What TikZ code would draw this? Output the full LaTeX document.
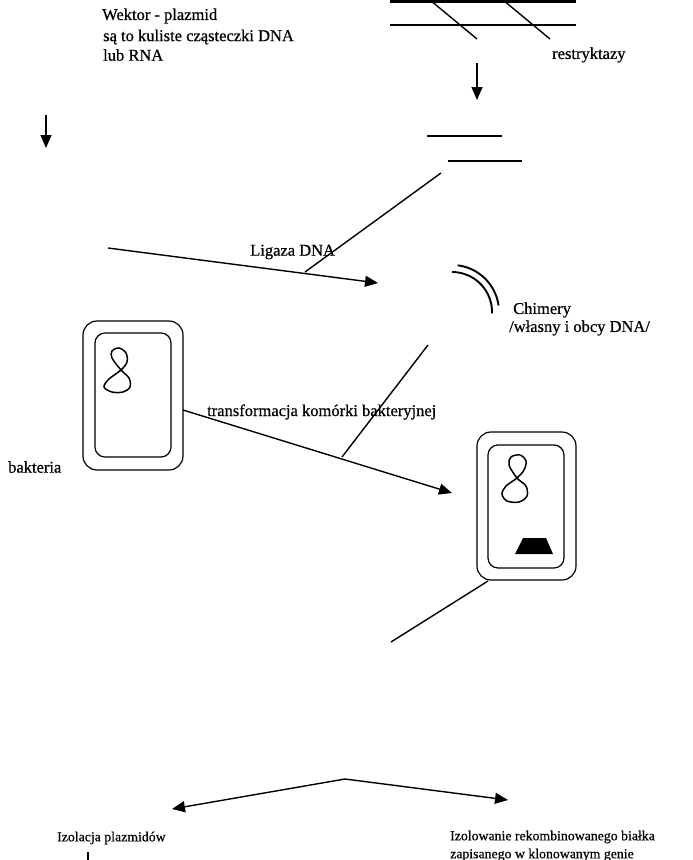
\documentclass[tikz,border=0pt]{standalone}
\usepackage{fontspec}
\setmainfont{Liberation Serif}[FakeBold=0.6]
\usetikzlibrary{arrows.meta}
\begin{document}
\begin{tikzpicture}[x=1pt,y=-1pt,
  lbl/.style={anchor=west,inner sep=0pt,font=\fontsize{16.5}{19}\selectfont},
  small/.style={anchor=west,inner sep=0pt,font=\fontsize{13.8}{18}\selectfont},
  strand/.style={line width=2.6pt},
  cut/.style={line width=1.4pt},
  arr/.style={line width=1.4pt,-{Triangle[length=13pt,width=11pt]}},
  wall/.style={draw,line width=1.2pt,rounded corners=14pt,inner sep=0pt,
    minimum width=100pt,minimum height=149pt},
  membrane/.style={draw,line width=1.2pt,rounded corners=10pt,inner sep=0pt,
    minimum width=76pt,minimum height=124pt},
  eight/.style={line width=1.5pt},
  arcline/.style={line width=1.9pt}]
\useasboundingbox (0,0) rectangle (693,860);

% --- labels ---
\node[lbl] (wektor) at (102,16) {Wektor - plazmid};
\node[lbl] (kuliste) at (103,37) {są to kuliste cząsteczki DNA};
\node[lbl] (lubrna) at (103,55) {lub RNA};
\node[lbl] (restr) at (552,55) {restryktazy};
\node[lbl] (ligaza) at (250,252) {Ligaza DNA};
\node[lbl] (chim) at (513,310) {Chimery};
\node[lbl] (chim2) at (509,328) {/własny i obcy DNA/};
\node[lbl] (transf) at (207,412) {transformacja komórki bakteryjnej};
\node[lbl] (bakt) at (8,467) {bakteria};
\node[small] (izpl) at (57,838) {Izolacja plazmidów};
\node[small] (izbi) at (450,837) {Izolowanie rekombinowanego białka};
\node[small] (izbi2) at (450,855) {zapisanego w klonowanym genie};

% --- DNA cut by restriction enzymes ---
\coordinate (s1a) at (390,1.5);  \coordinate (s1b) at (576,1.5);
\coordinate (s2a) at (390,25);   \coordinate (s2b) at (576,25);
\draw[strand] (s1a) -- (s1b);
\draw[strand] (s2a) -- (s2b);
\coordinate (c1a) at (430,0); \coordinate (c1b) at (477,39);
\coordinate (c2a) at (503,0); \coordinate (c2b) at (550,39);
\draw[cut] (c1a) -- (c1b);
\draw[cut] (c2a) -- (c2b);

% --- arrows down ---
\coordinate (d1a) at (477,63); \coordinate (d1b) at (477,100);
\draw[arr] (d1a) -- (d1b);
\coordinate (d2a) at (46,115); \coordinate (d2b) at (46,148);
\draw[arr] (d2a) -- (d2b);

% --- fragment with sticky ends ---
\coordinate (f1a) at (427,136); \coordinate (f1b) at (502,136);
\coordinate (f2a) at (448,161); \coordinate (f2b) at (522,161);
\draw[strand] (f1a) -- (f1b);
\draw[strand] (f2a) -- (f2b);
\coordinate (g1a) at (441,173); \coordinate (g1b) at (305,272);
\draw[cut] (g1a) -- (g1b);

% --- ligation arrow ---
\coordinate (l1a) at (108,248); \coordinate (l1b) at (378,283);
\draw[arr] (l1a) -- (l1b);

% --- chimera arcs ---
\draw[arcline] plot[domain=83:8,samples=40] ({452+47*cos(\x)},{312-47*sin(\x)});
\draw[arcline] plot[domain=90:-2,samples=40] ({452+40*cos(\x)},{312-40*sin(\x)});

% --- bacterium ---
\node[wall] (cellA) at (133,395.5) {};
\node[membrane] (cellAin) at (133,395) {};
\draw[eight] plot[smooth cycle,tension=0.55] coordinates {
  (121,370) (127,362) (126,353) (119,348) (112,351) (112,358)
  (121,370) (129,378) (130,387) (123,392) (112,392) (104,387) (109,379)};

% --- transformed bacterium ---
\node[wall,minimum width=99pt,minimum height=148pt] (cellB) at (526.5,506) {};
\node[membrane,minimum height=123pt] (cellBin) at (526,506.5) {};
\draw[eight] plot[smooth cycle,tension=0.55] coordinates {
  (517,478) (524,470) (526,461) (520,455) (511,457) (509,465)
  (517,478) (526,486) (527,496) (519,502) (507,501) (502,494) (506,486)};
\fill (523,538) -- (546,538) -- (553,554) -- (515,554) -- cycle;

% --- transformation arrow and crossing line ---
\coordinate (t1a) at (183,410); \coordinate (t1b) at (452,493);
\draw[arr] (t1a) -- (t1b);
\coordinate (h1a) at (428,345); \coordinate (h1b) at (342,457);
\draw[cut] (h1a) -- (h1b);

% --- line from transformed cell ---
\coordinate (k1a) at (488,581); \coordinate (k1b) at (391,642);
\draw[cut] (k1a) -- (k1b);

% --- branching to the two isolation steps ---
\coordinate (apex) at (345,779);
\coordinate (leftend) at (172,809);
\coordinate (rightend) at (508,800);
\draw[arr] (apex) -- (leftend);
\draw[arr] (apex) -- (rightend);
\coordinate (tickA) at (88,852); \coordinate (tickB) at (88,861);
\draw[line width=1.1pt] (tickA) -- (tickB);
\end{tikzpicture}
\end{document}
